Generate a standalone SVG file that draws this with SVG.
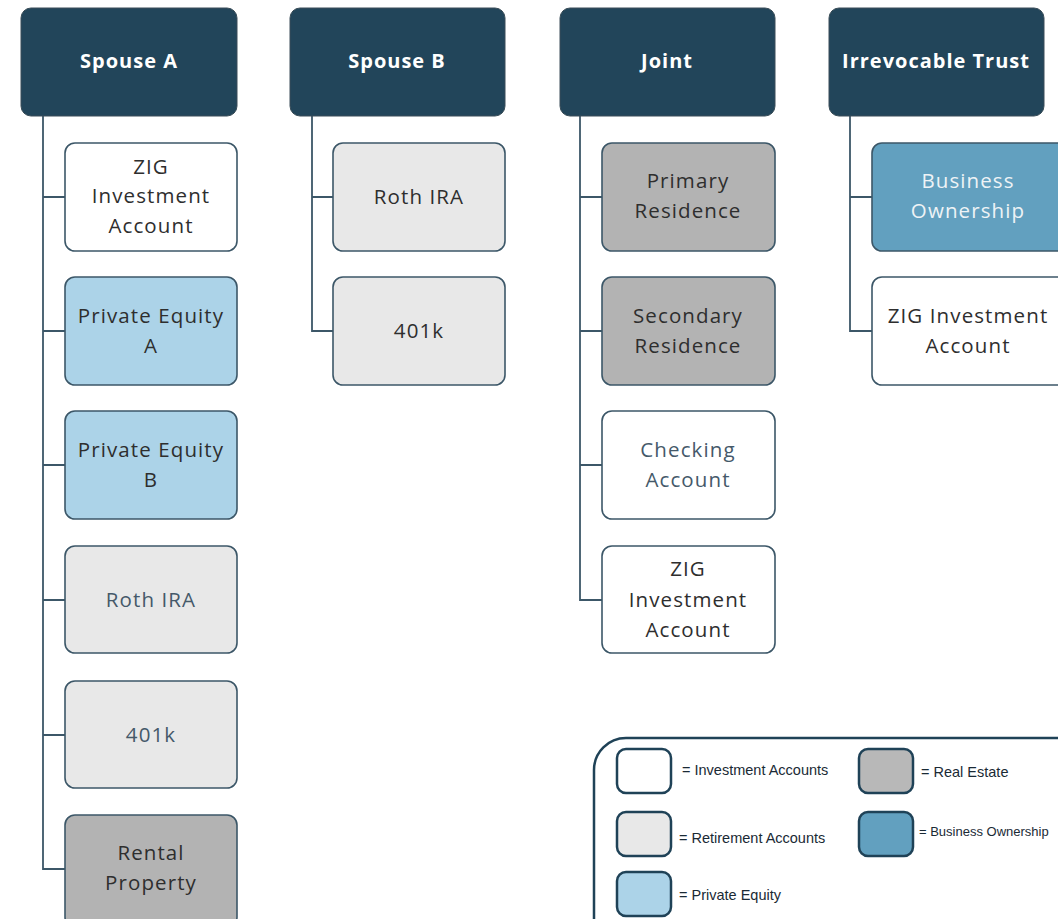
<svg xmlns="http://www.w3.org/2000/svg" width="1058" height="919" viewBox="0 0 1058 919">
<style>
.hdr{fill:#22455a;stroke:#3a4d58;stroke-width:1}
.ht{font-family:"Open Sans","Liberation Sans",sans-serif;font-weight:700;font-size:20px;fill:#ffffff;text-anchor:middle;letter-spacing:1px}
.box{stroke:#3c5768;stroke-width:1.6}
.inv{fill:#ffffff}
.ret{fill:#e8e8e8}
.pe{fill:#acd3e8}
.re{fill:#b3b3b3}
.bo{fill:#62a0bf}
.t{font-family:"Open Sans","Liberation Sans",sans-serif;font-size:20.5px;text-anchor:middle;fill:#2e2e2e;letter-spacing:1.1px}
.ts{fill:#45596a}
.tw{fill:#eef3f6}
.conn{fill:none;stroke:#3c5768;stroke-width:1.8}
.sw{stroke:#1f4257;stroke-width:2.5}
.lt{font-family:"Liberation Sans",sans-serif;font-size:14.5px;fill:#1a2a35}
</style>
<g id="connectors">
<path class="conn" d="M43,116 V869 H65 M43,197 H65 M43,331 H65 M43,465 H65 M43,600 H65 M43,735 H65"/>
<path class="conn" d="M312,116 V331 H333 M312,197 H333"/>
<path class="conn" d="M580,116 V600 H602 M580,197 H602 M580,331 H602 M580,465 H602"/>
<path class="conn" d="M850,116 V331 H872 M850,197 H872"/>
</g>
<g id="spouse-a"><rect class="hdr" x="21" y="8" width="216" height="108" rx="10"/><text class="ht" x="129" y="68">Spouse A</text></g>
<g id="spouse-b"><rect class="hdr" x="290" y="8" width="215" height="108" rx="10"/><text class="ht" x="397" y="68">Spouse B</text></g>
<g id="joint"><rect class="hdr" x="560" y="8" width="215" height="108" rx="10"/><text class="ht" x="667" y="68">Joint</text></g>
<g id="trust"><rect class="hdr" x="829" y="8" width="215" height="108" rx="10"/><text class="ht" x="936" y="68">Irrevocable Trust</text></g>

<g id="a-zig"><rect class="box inv" x="65" y="143" width="172" height="108" rx="10"/><text class="t" x="151" y="174">ZIG</text><text class="t" x="151" y="203">Investment</text><text class="t" x="151" y="233">Account</text></g>
<g id="a-pea"><rect class="box pe" x="65" y="277" width="172" height="108" rx="10"/><text class="t" x="151" y="323">Private Equity</text><text class="t" x="151" y="353">A</text></g>
<g id="a-peb"><rect class="box pe" x="65" y="411" width="172" height="108" rx="10"/><text class="t" x="151" y="457">Private Equity</text><text class="t" x="151" y="487">B</text></g>
<g id="a-roth"><rect class="box ret" x="65" y="546" width="172" height="107" rx="10"/><text class="t ts" x="151" y="607">Roth IRA</text></g>
<g id="a-401k"><rect class="box ret" x="65" y="681" width="172" height="107" rx="10"/><text class="t ts" x="151" y="742">401k</text></g>
<g id="a-rental"><rect class="box re" x="65" y="815" width="172" height="112" rx="10"/><text class="t" x="151" y="860">Rental</text><text class="t" x="151" y="890">Property</text></g>

<g id="b-roth"><rect class="box ret" x="333" y="143" width="172" height="108" rx="10"/><text class="t" x="419" y="204">Roth IRA</text></g>
<g id="b-401k"><rect class="box ret" x="333" y="277" width="172" height="108" rx="10"/><text class="t" x="419" y="338">401k</text></g>

<g id="j-primary"><rect class="box re" x="602" y="143" width="173" height="108" rx="10"/><text class="t" x="688" y="188">Primary</text><text class="t" x="688" y="218">Residence</text></g>
<g id="j-secondary"><rect class="box re" x="602" y="277" width="173" height="108" rx="10"/><text class="t" x="688" y="323">Secondary</text><text class="t" x="688" y="353">Residence</text></g>
<g id="j-checking"><rect class="box inv" x="602" y="411" width="173" height="108" rx="10"/><text class="t ts" x="688" y="457">Checking</text><text class="t ts" x="688" y="487">Account</text></g>
<g id="j-zig"><rect class="box inv" x="602" y="546" width="173" height="107" rx="10"/><text class="t" x="688" y="576">ZIG</text><text class="t" x="688" y="607">Investment</text><text class="t" x="688" y="637">Account</text></g>

<g id="t-business"><rect class="box bo" x="872" y="143" width="200" height="108" rx="10"/><text class="t tw" x="968" y="188">Business</text><text class="t tw" x="968" y="218">Ownership</text></g>
<g id="t-zig"><rect class="box inv" x="872" y="277" width="200" height="108" rx="10"/><text class="t" x="968" y="323">ZIG Investment</text><text class="t" x="968" y="353">Account</text></g>

<g id="legend">
<rect x="594" y="738" width="500" height="220" rx="32" fill="#ffffff" stroke="#1f4257" stroke-width="2.5"/>
<rect class="sw inv" x="617" y="749" width="54" height="44" rx="9"/><text class="lt" x="682" y="775">= Investment Accounts</text>
<rect class="sw ret" x="617" y="812" width="54" height="44" rx="9"/><text class="lt" x="679" y="843">= Retirement Accounts</text>
<rect class="sw pe" x="617" y="872" width="54" height="44" rx="9"/><text class="lt" x="679" y="900">= Private Equity</text>
<rect class="sw" fill="#b8b8b8" x="859" y="749" width="54" height="44" rx="9"/><text class="lt" x="921" y="777">= Real Estate</text>
<rect class="sw bo" x="859" y="812" width="54" height="44" rx="9"/><text class="lt" x="919" y="836" style="font-size:13px">= Business Ownership</text>
</g>
</svg>
